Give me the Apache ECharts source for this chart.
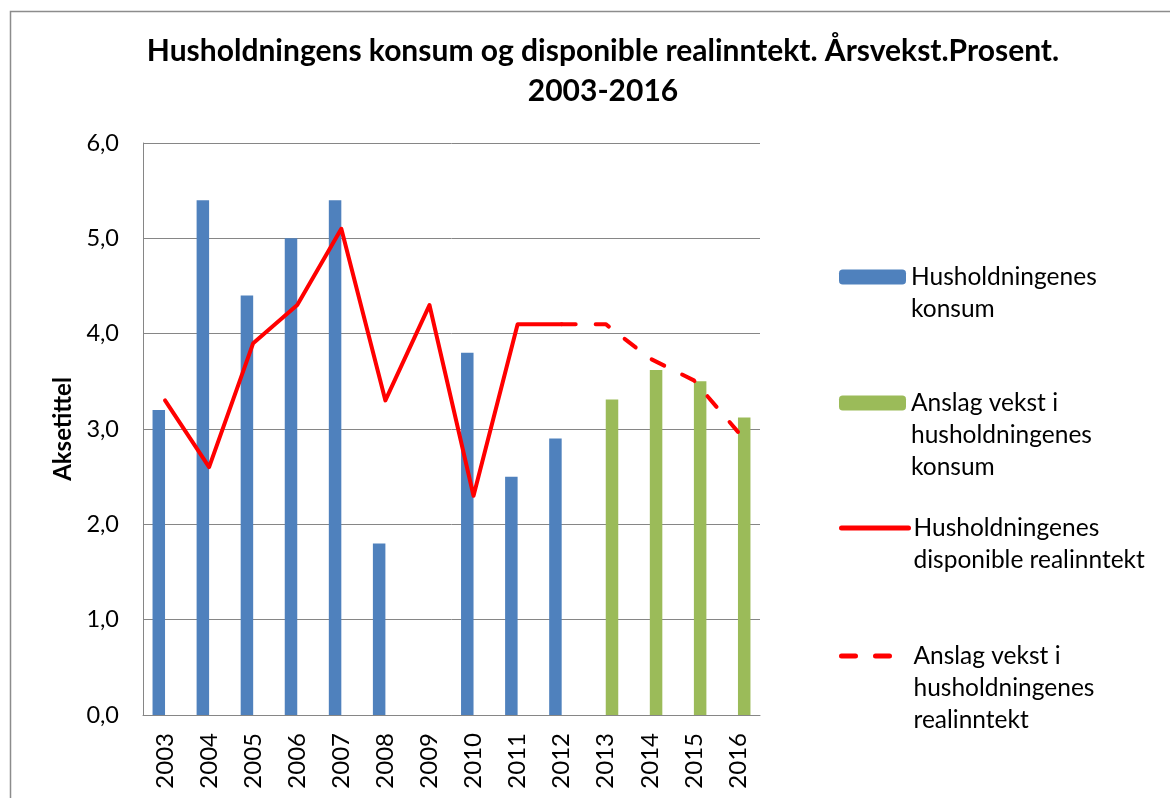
<!DOCTYPE html>
<html>
<head>
<meta charset="utf-8">
<script src="https://cdn.jsdelivr.net/npm/echarts@6/dist/echarts.min.js"></script>
<style>
html,body{margin:0;padding:0;background:#fff;}
#chart{width:1170px;height:798px;}
</style>
</head>
<body>
<div id="chart"></div>
<script>
const years = ['2003','2004','2005','2006','2007','2008','2009','2010','2011','2012','2013','2014','2015','2016'];
const konsum = [3.2, 5.4, 4.4, 5.0, 5.4, 1.8, 0, 3.8, 2.5, 2.9, null, null, null, null];
const anslagKonsum = [null, null, null, null, null, null, null, null, null, null, 3.31, 3.62, 3.5, 3.12];
const realinntekt = [3.3, 2.6, 3.9, 4.3, 5.1, 3.3, 4.3, 2.3, 4.1, 4.1, null, null, null, null];
const anslagRealinntekt = [null, null, null, null, null, null, null, null, null, 4.1, 4.1, 3.74, 3.51, 2.97];
const yMin = 0, yMax = 6, yStep = 1;

const names = [
  'Husholdningenes\nkonsum',
  'Anslag vekst i\nhusholdningenes\nkonsum',
  'Husholdningenes\ndisponible realinntekt',
  'Anslag vekst i\nhusholdningenes\nrealinntekt'
];
const titleText = 'Husholdningens konsum og disponible realinntekt. Årsvekst.Prosent.\n2003-2016';
const yAxisTitle = 'Aksetittel';

const FONT = 'Lato, "Liberation Sans", sans-serif';
const chart = echarts.init(document.getElementById('chart'));

function mkLegend(name, top, pad, isLine) {
  const l = {
    show: true,
    left: 839,
    top: top,
    padding: 0,
    itemWidth: 67,
    itemHeight: 15,
    itemGap: 0,
    data: [name],
    selectedMode: false,
    formatter: function (n) { return '\n'.repeat(pad) + n; },
    textStyle: { fontFamily: FONT, fontSize: 24.5, lineHeight: 32, color: '#000' }
  };
  if (isLine) {
    l.itemStyle = { opacity: 0 };
    l.lineStyle = { width: 5 };
  }
  return l;
}

chart.setOption({
  animation: false,
  backgroundColor: '#fff',
  title: {
    text: titleText,
    left: 598,
    textAlign: 'center',
    top: 26,
    textStyle: { fontFamily: FONT, fontSize: 30, fontWeight: 'bold', lineHeight: 40, color: '#000' }
  },
  graphic: [{
    type: 'rect',
    shape: { x: 10.5, y: 11.5, width: 1300, height: 900 },
    style: { fill: null, stroke: '#8c8c8c', lineWidth: 1.5 },
    silent: true
  }],
  legend: [
    mkLegend(names[0], 229, 1, false),
    mkLegend(names[1], 323, 2, false),
    mkLegend(names[2], 480, 1, true),
    mkLegend(names[3], 576, 2, true)
  ],
  grid: { left: 143, top: 143, right: 410, bottom: 83, containLabel: false },
  xAxis: {
    type: 'category',
    data: years,
    boundaryGap: true,
    axisLine: { lineStyle: { color: '#868686', width: 1 } },
    axisTick: { show: false },
    axisLabel: { rotate: 90, margin: 18, fontFamily: FONT, fontSize: 24, color: '#000', interval: 0 }
  },
  yAxis: {
    type: 'value',
    min: yMin, max: yMax, interval: yStep,
    name: yAxisTitle,
    nameLocation: 'middle',
    nameRotate: 90,
    nameGap: 68,
    nameTextStyle: { fontFamily: FONT, fontSize: 24, fontWeight: 'bold', color: '#000' },
    axisLine: { show: true, lineStyle: { color: '#868686', width: 1 } },
    axisTick: { show: false },
    splitLine: { lineStyle: { color: '#868686', width: 1 } },
    axisLabel: {
      margin: 24, fontFamily: FONT, fontSize: 23.5, color: '#000',
      formatter: function (v) { return v.toFixed(1).replace('.', ','); }
    }
  },
  series: [
    { name: names[0], type: 'bar', data: konsum, barWidth: 12.5, barGap: '0%', itemStyle: { color: '#4F81BD' } },
    { name: names[1], type: 'bar', data: anslagKonsum, barWidth: 12.5, barGap: '0%', itemStyle: { color: '#9BBB59' } },
    { name: names[2], type: 'line', data: realinntekt, symbol: 'none', z: 5,
      lineStyle: { color: '#FF0000', width: 4, join: 'round', cap: 'round' }, itemStyle: { color: '#FF0000' } },
    { name: names[3], type: 'line', data: anslagRealinntekt, symbol: 'none', z: 5,
      lineStyle: { color: '#FF0000', width: 4, type: [14, 20], cap: 'round', join: 'round' }, itemStyle: { color: '#FF0000' } }
  ]
});
</script>
</body>
</html>
